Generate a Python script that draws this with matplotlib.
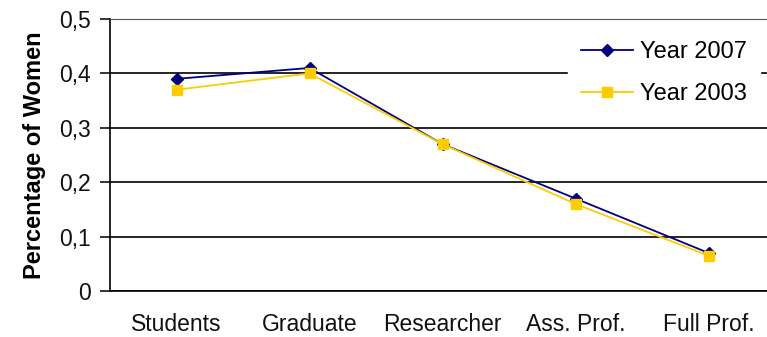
import matplotlib
matplotlib.use("Agg")
import matplotlib.pyplot as plt
from matplotlib.ticker import FuncFormatter

categories = ["Students", "Graduate", "Researcher", "Ass. Prof.", "Full Prof."]
year2007 = [0.39, 0.41, 0.27, 0.17, 0.07]
year2003 = [0.37, 0.40, 0.27, 0.16, 0.065]
yticks = [0, 0.1, 0.2, 0.3, 0.4, 0.5]

plt.rcParams['font.family'] = ['Liberation Sans', 'DejaVu Sans']

fig = plt.figure(figsize=(7.67, 3.37), dpi=100)
ax = fig.add_axes([110/767, 46/337, 665/767, 272/337])
x = list(range(len(categories)))
ax.plot(x, year2007, color="#000080", marker="D", markersize=6, lw=1.3, label="Year 2007", zorder=3)
ax.plot(x, year2003, color="#FFCC00", marker="s", markersize=7.5, lw=1.3, label="Year 2003", zorder=3)

ax.set_xlim(-0.5, 4.5)
ax.set_ylim(0, 0.5)
ax.set_yticks(yticks)
ax.yaxis.set_major_formatter(FuncFormatter(lambda v, p: "0" if v == 0 else f"{v:.1f}".replace(".", ",")))
ax.set_xticks(x)
ax.set_xticklabels(categories)
ax.grid(axis="y", color="black", lw=1.2)
ax.set_axisbelow(True)
ax.spines["right"].set_visible(False)
ax.spines["top"].set_color("#555555")
ax.spines["left"].set_linewidth(1.2)
ax.spines["bottom"].set_linewidth(1.2)
ax.tick_params(axis="x", length=0, pad=16, labelsize=16.5, colors="#111111")
ax.tick_params(axis="y", length=7, width=1.2, direction="out", pad=7, labelsize=16.5, colors="#111111")
ax.set_ylabel("Percentage of Women", fontsize=17, fontweight="bold", labelpad=9)

leg = fig.legend(loc="upper left", bbox_to_anchor=(568/767, 1 - 28/337), frameon=True,
                 fontsize=17, handlelength=2.2, handletextpad=0.3, borderpad=0.55,
                 labelspacing=0.85, fancybox=False, borderaxespad=0)
leg.get_frame().set_edgecolor("white")
leg.get_frame().set_facecolor("white")
leg.get_frame().set_alpha(1)

fig.savefig("out.png", dpi=100)
